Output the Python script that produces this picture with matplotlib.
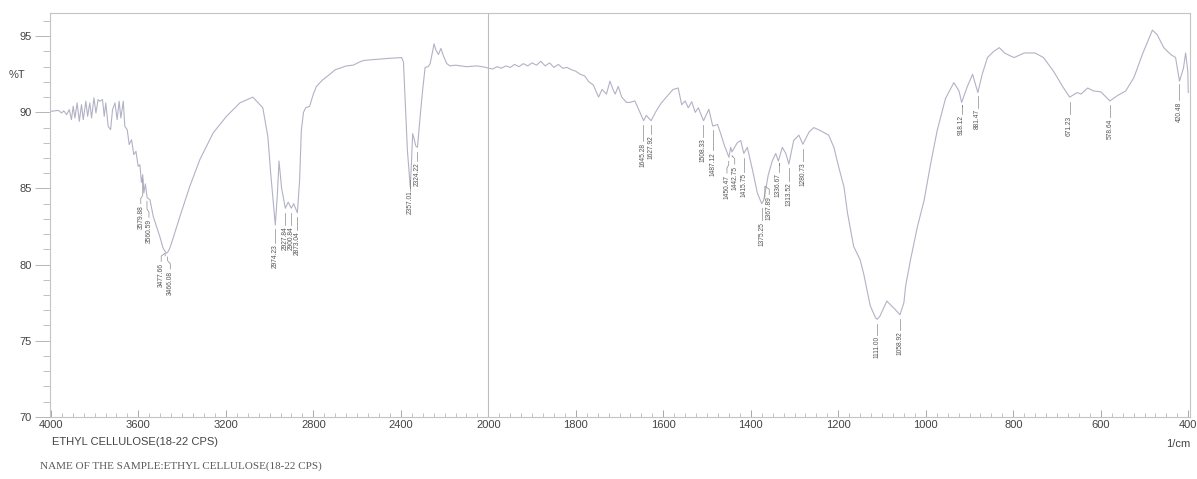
import numpy as np
import matplotlib
matplotlib.use("Agg")
import matplotlib.pyplot as plt
from matplotlib.ticker import FixedLocator

# FTIR spectrum (wavenumber 1/cm, %T)
wavenumber = [3997, 3966, 3951, 3941, 3928, 3916, 3906, 3898, 3890, 3880,
              3870, 3860, 3852, 3840, 3832, 3822, 3814, 3803, 3794, 3784,
              3776, 3764, 3756, 3749, 3738, 3727, 3718, 3707, 3697, 3688,
              3680, 3669, 3662, 3651, 3642, 3631, 3621, 3611, 3601, 3593,
              3586, 3580, 3575, 3568, 3560, 3547, 3532, 3517, 3502, 3487,
              3477, 3472, 3466, 3456, 3441, 3410, 3365, 3319, 3258, 3197,
              3136, 3077, 3031, 3008, 2995, 2974, 2965, 2957, 2945, 2928,
              2915, 2901, 2890, 2873, 2863, 2855, 2845, 2835, 2817, 2800,
              2786, 2760, 2725, 2700, 2679, 2650, 2618, 2590, 2572, 2540,
              2495, 2450, 2396, 2388, 2381, 2370, 2362, 2357, 2352, 2346,
              2340, 2332, 2324, 2310, 2300, 2289, 2275, 2266, 2255, 2248,
              2240, 2228, 2217, 2205, 2190, 2175, 2150, 2100, 2050, 2010,
              2000, 1990, 1980, 1970, 1960, 1950, 1940, 1930, 1920, 1910,
              1900, 1890, 1880, 1870, 1860, 1850, 1840, 1830, 1820, 1810,
              1800, 1790, 1780, 1770, 1760, 1748, 1740, 1730, 1722, 1715,
              1710, 1703, 1695, 1684, 1677, 1665, 1655, 1645, 1639, 1628,
              1616, 1605, 1593, 1578, 1566, 1558, 1550, 1543, 1535, 1527,
              1520, 1508, 1496, 1487, 1476, 1470, 1460, 1450, 1446, 1443,
              1431, 1423, 1416, 1408, 1396, 1385, 1375, 1371, 1368, 1360,
              1351, 1343, 1337, 1328, 1320, 1313, 1302, 1290, 1281, 1267,
              1256, 1241, 1222, 1210, 1199, 1187, 1179, 1165, 1150, 1142,
              1127, 1115, 1111, 1105, 1089, 1070, 1059, 1050, 1046, 1035,
              1019, 1004, 989, 974, 955, 936, 924, 918, 905, 893,
              881, 871, 859, 845, 832, 820, 806, 798, 775, 750,
              731, 708, 685, 671, 654, 645, 630, 616, 600, 579,
              562, 543, 524, 505, 482, 471, 456, 440, 429, 420,
              411, 406, 401, 400]
transmittance = [90.07, 90.13, 89.96, 90.10, 89.85, 90.18, 89.52, 90.40, 89.63, 90.62,
                 89.41, 90.51, 89.52, 90.73, 89.74, 90.62, 89.63, 90.95, 89.96, 90.84,
                 90.73, 90.84, 89.74, 90.62, 89.08, 88.86, 90.18, 90.62, 89.52, 90.73,
                 89.63, 90.73, 89.08, 88.86, 87.88, 88.20, 87.22, 87.44, 86.45, 86.56,
                 85.40, 85.90, 84.70, 85.30, 84.40, 84.25, 83.16, 82.50, 81.84, 81.08,
                 80.85, 80.75, 80.80, 81.08, 81.74, 83.16, 85.13, 86.89, 88.65, 89.74,
                 90.62, 91.00, 90.30, 88.40, 86.00, 82.60, 84.50, 86.80, 85.00, 83.70,
                 84.10, 83.70, 84.00, 83.40, 85.50, 88.80, 90.00, 90.30, 90.40, 91.20,
                 91.70, 92.10, 92.50, 92.80, 92.90, 93.05, 93.10, 93.30, 93.40, 93.45,
                 93.50, 93.55, 93.60, 93.30, 91.00, 87.50, 86.00, 85.10, 86.50, 88.60,
                 88.30, 87.80, 87.70, 90.00, 91.50, 92.95, 93.00, 93.20, 94.00, 94.50,
                 94.10, 93.80, 94.20, 93.70, 93.20, 93.05, 93.10, 93.00, 93.05, 92.95,
                 92.90, 92.85, 93.00, 92.90, 93.05, 92.95, 93.15, 93.00, 93.20, 93.05,
                 93.25, 93.10, 93.35, 93.05, 93.25, 92.95, 93.15, 92.90, 92.95, 92.80,
                 92.70, 92.50, 92.40, 92.00, 91.80, 91.00, 91.50, 91.20, 92.05, 91.50,
                 91.20, 91.70, 91.00, 90.65, 90.65, 90.75, 90.10, 89.45, 89.80, 89.45,
                 90.10, 90.60, 91.00, 91.50, 91.60, 90.50, 90.75, 90.30, 90.70, 90.00,
                 90.30, 89.45, 90.20, 89.10, 89.20, 88.70, 87.80, 87.05, 87.70, 87.40,
                 88.00, 88.15, 87.30, 87.70, 86.20, 84.70, 84.00, 84.20, 84.60, 85.90,
                 86.80, 87.30, 86.80, 87.70, 87.30, 86.60, 88.15, 88.50, 87.90, 88.70,
                 89.00, 88.80, 88.50, 87.70, 86.40, 85.10, 83.40, 81.20, 80.30, 79.40,
                 77.30, 76.50, 76.40, 76.60, 77.60, 77.05, 76.70, 77.50, 78.60, 80.30,
                 82.50, 84.20, 86.60, 88.80, 90.90, 91.95, 91.40, 90.65, 91.70, 92.50,
                 91.30, 92.50, 93.60, 94.00, 94.25, 93.90, 93.70, 93.60, 93.90, 93.90,
                 93.60, 92.70, 91.60, 91.00, 91.30, 91.20, 91.60, 91.40, 91.35, 90.75,
                 91.10, 91.40, 92.30, 93.80, 95.40, 95.10, 94.25, 93.80, 93.60, 92.05,
                 92.90, 93.90, 92.70, 91.30]

# labelled peaks and where the top of each label sits (%T)
peak_wn = [3579.88, 3560.59, 3477.66, 3466.08, 2974.23, 2927.84, 2900.84, 2873.04,
           2357.01, 2324.22, 1645.28, 1627.92, 1508.33, 1487.12, 1450.47, 1442.75,
           1415.75, 1375.25, 1367.89, 1336.67, 1313.52, 1280.73, 1111.00, 1058.92,
           918.12, 881.47, 671.23, 578.64, 420.48]
label_top = [83.9, 83.0, 80.1, 79.6, 81.3, 82.5, 82.5, 82.2,
             84.9, 86.7, 88.0, 88.5, 88.3, 87.4, 85.9, 86.5,
             86.0, 82.8, 84.5, 86.0, 85.4, 86.7, 75.3, 75.6,
             89.8, 90.2, 89.8, 89.6, 90.7]
# crowded labels are pushed sideways (1/cm)
label_shift = {3579.88: 9, 3560.59: -9, 3477.66: 18, 3466.08: -12,
               1367.89: -10, 1450.47: 4, 1442.75: -6}

major_x = [4000, 3600, 3200, 2800, 2400, 2000, 1800, 1600, 1400, 1200, 1000, 800, 600, 400]
major_y = [70, 75, 80, 85, 90, 95]


def fwd(x):
    x = np.asarray(x, dtype=float)
    return np.where(x > 2000, 2000 + (x - 2000) / 2, x)


def inv(t):
    t = np.asarray(t, dtype=float)
    return np.where(t > 2000, 2000 + (t - 2000) * 2, t)


W, H = 1197, 479
fig = plt.figure(figsize=(W / 100, H / 100), dpi=100)
ax = fig.add_axes([50 / W, 0.130, 1140 / W, 0.842])

line_col = '#b2b2c6'
text_col = '#555555'
frame_col = '#c4c4c4'

ax.set_xscale('function', functions=(fwd, inv))
ax.plot(wavenumber, transmittance, color=line_col, lw=0.8)
ax.axvline(2000, color='#bdbdbd', lw=0.8)

# peak markers
wn_r = np.array(wavenumber[::-1], dtype=float)
tr_r = np.array(transmittance[::-1], dtype=float)
for wn, top in zip(peak_wn, label_top):
    y_curve = np.interp(wn, wn_r, tr_r)
    xt = wn + label_shift.get(wn, 0)
    mid = top + 0.45
    ax.plot([wn, wn, xt, xt], [y_curve - 0.3, mid + 0.2, mid, top + 0.1],
            color='#8a8a8a', lw=0.5)
    ax.text(xt, top, f"{wn:.2f}", rotation=90, ha='center', va='top',
            fontsize=4.8, color=text_col, family='Liberation Sans')

ax.set_xlim(4004, 396)
ax.set_ylim(70, 96.5)

minor_x = list(np.arange(4000, 2000, -50)) + list(np.arange(2000, 399, -25))
ax.xaxis.set_major_locator(FixedLocator(major_x))
ax.xaxis.set_minor_locator(FixedLocator(minor_x))
ax.yaxis.set_major_locator(FixedLocator(major_y))
ax.yaxis.set_minor_locator(FixedLocator(np.arange(70, 97, 1)))
ax.set_xticklabels([str(v) for v in major_x])

ax.tick_params(axis='x', which='major', direction='in', length=5, width=0.6,
               color='#999999', labelsize=8, labelcolor='#444444', pad=2)
ax.tick_params(axis='x', which='minor', direction='in', length=3, width=0.5,
               color='#aaaaaa')
ax.tick_params(axis='y', which='major', direction='out', length=11, width=0.6,
               color='#aaaaaa', labelsize=8, labelcolor='#444444', pad=2)
ax.tick_params(axis='y', which='minor', direction='out', length=5, width=0.5,
               color='#aaaaaa')
for lab in ax.get_xticklabels() + ax.get_yticklabels():
    lab.set_family('Liberation Sans')

for s in ax.spines.values():
    s.set_color(frame_col)
    s.set_linewidth(0.8)

fig.text(17 / W, 1 - 75 / H, '%T', ha='center', va='center', fontsize=8,
         color='#444444', family='Liberation Sans')
fig.text(52 / W, 1 - 442 / H, 'ETHYL CELLULOSE(18-22 CPS)', ha='left', va='center',
         fontsize=8, color='#444444', family='Liberation Sans')
fig.text(1190 / W, 1 - 444 / H, '1/cm', ha='right', va='center', fontsize=8,
         color='#444444', family='Liberation Sans')
fig.text(40 / W, 1 - 466 / H, 'NAME OF THE SAMPLE:ETHYL CELLULOSE(18-22 CPS)',
         ha='left', va='center', fontsize=8, color='#5a5a5a', family='Liberation Serif')

fig.savefig('out.png', dpi=100)
